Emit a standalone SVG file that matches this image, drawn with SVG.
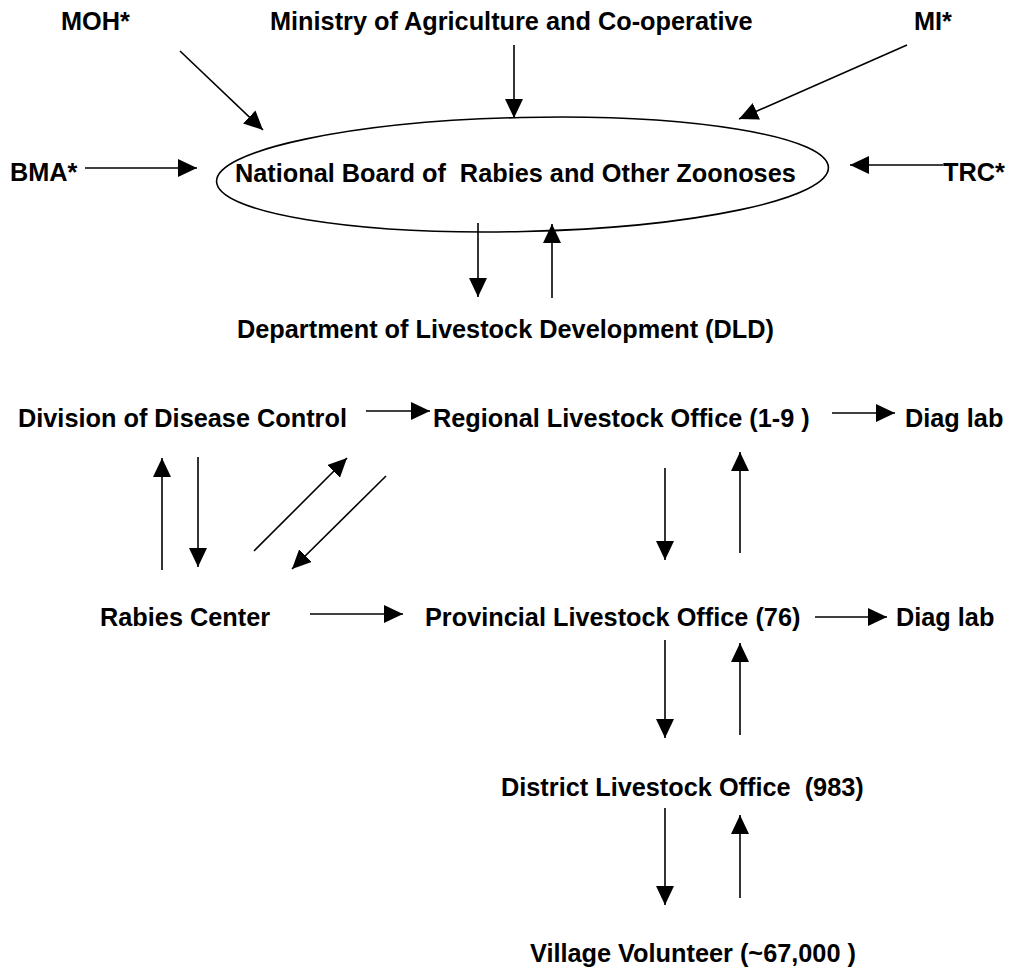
<svg xmlns="http://www.w3.org/2000/svg" width="1013" height="968" viewBox="0 0 1013 968">
<style>
text{font-family:"Liberation Sans",Arial,sans-serif;font-weight:bold;font-size:25.3px;fill:#000;white-space:pre}
.c line{stroke:#000;stroke-width:1.6;marker-end:url(#ah)}
.shape{fill:none;stroke:#000;stroke-width:1.6}
</style>
<defs>
<marker id="ah" viewBox="0 0 19 18" markerWidth="19" markerHeight="18" refX="19" refY="9" orient="auto" markerUnits="userSpaceOnUse">
<path d="M0,0 L19,9 L0,18 z" fill="#000"/>
</marker>
</defs>
<rect width="1013" height="968" fill="#fff"/>
<g id="moh"><text x="61" y="30">MOH*</text></g>
<g id="moac"><text x="270" y="30">Ministry of Agriculture and Co-operative</text></g>
<g id="mi"><text x="914" y="30">MI*</text></g>
<g id="bma"><text x="10" y="181">BMA*</text></g>
<g id="trc"><text x="943" y="181">TRC*</text></g>
<g id="board">
<ellipse class="shape" cx="522.5" cy="174.5" rx="306" ry="57" transform="rotate(-1.3 522.5 174.5)"/>
<text x="235" y="182">National Board of  Rabies and Other Zoonoses</text>
</g>
<g id="dld"><text x="237" y="338">Department of Livestock Development (DLD)</text></g>
<g id="ddc"><text x="18" y="427">Division of Disease Control</text></g>
<g id="regional"><text x="433" y="427">Regional Livestock Office (1-9 )</text></g>
<g id="diag1"><text x="905" y="427">Diag lab</text></g>
<g id="rabies"><text x="100" y="626">Rabies Center</text></g>
<g id="provincial"><text x="425" y="626">Provincial Livestock Office (76)</text></g>
<g id="diag2"><text x="896" y="626">Diag lab</text></g>
<g id="district"><text x="501" y="796">District Livestock Office  (983)</text></g>
<g id="village"><text x="530" y="962">Village Volunteer (~67,000 )</text></g>
<g id="connectors" class="c">
<line x1="180" y1="51" x2="263" y2="130"/>
<line x1="514" y1="45" x2="514" y2="118"/>
<line x1="907" y1="45" x2="739" y2="119"/>
<line x1="85" y1="168" x2="197" y2="168"/>
<line x1="943" y1="165" x2="850" y2="165"/>
<line x1="478" y1="223" x2="478" y2="297"/>
<line x1="552" y1="298" x2="552" y2="224"/>
<line x1="366" y1="411" x2="430" y2="411"/>
<line x1="832" y1="413" x2="895" y2="413"/>
<line x1="162" y1="570" x2="162" y2="458"/>
<line x1="198" y1="457" x2="198" y2="567"/>
<line x1="254" y1="551" x2="347" y2="458"/>
<line x1="386" y1="476" x2="292" y2="569"/>
<line x1="310" y1="614" x2="403" y2="614"/>
<line x1="815" y1="617" x2="887" y2="617"/>
<line x1="665" y1="468" x2="665" y2="560"/>
<line x1="740" y1="553" x2="740" y2="452"/>
<line x1="665" y1="640" x2="665" y2="738"/>
<line x1="740" y1="735" x2="740" y2="643"/>
<line x1="665" y1="808" x2="665" y2="905"/>
<line x1="740" y1="898" x2="740" y2="815"/>
</g>
</svg>
